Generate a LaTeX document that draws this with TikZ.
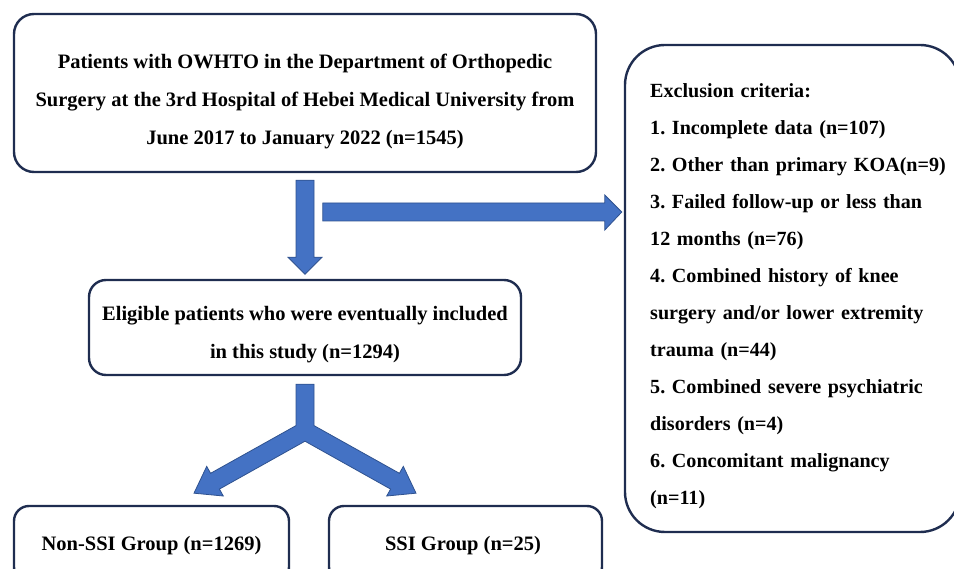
\documentclass[tikz,border=0pt]{standalone}
\usepackage{fontspec}
\setmainfont{Liberation Serif}
\usetikzlibrary{positioning}
\definecolor{boxline}{HTML}{1F2D50}
\definecolor{arrowblue}{HTML}{4472C4}
\definecolor{arrowline}{HTML}{2F528F}
\frenchspacing

\begin{document}
\begin{tikzpicture}[
    x=1pt, y=-1pt,
    frame/.style={rectangle, draw=boxline, line width=2.4pt, rounded corners=20pt, inner sep=0pt},
    txt/.style={align=center, inner sep=0pt, font=\fontsize{20.5}{38}\selectfont\bfseries},
    fatarrow/.style={fill=arrowblue, draw=arrowline, line width=0.8pt, line join=miter}
]
\useasboundingbox (0,0) rectangle (954,569);

% CAJAS PRINCIPALES
\node[frame, minimum width=582pt, minimum height=158pt] (patients) at (305,93) {};
\node[txt] (patientstext) at (305,101) {Patients with OWHTO in the Department of Orthopedic\\Surgery at the 3rd Hospital of Hebei Medical University from\\June 2017 to January 2022 (n=1545)};
\node[frame, minimum width=432pt, minimum height=95pt, rounded corners=17pt] (eligible) at (305,327.5) {};
\node[txt] (eligibletext) at (305,335) {Eligible patients who were eventually included\\in this study (n=1294)};

% EXCLUSION
\node[frame, minimum width=335pt, minimum height=487pt, rounded corners=40pt] (exclusion) at (792.5,288.5) {};
\node[txt, anchor=west, align=left, text width=320pt, font=\fontsize{20.1}{37}\selectfont\bfseries] (exclusiontext) at (650,296) {Exclusion criteria:\\1. Incomplete data (n=107)\\2. Other than primary KOA(n=9)\\3. Failed follow-up or less than\\12 months (n=76)\\4. Combined history of knee\\surgery and/or lower extremity\\trauma (n=44)\\5. Combined severe psychiatric\\disorders (n=4)\\6. Concomitant malignancy\\(n=11)};

% GRUPOS
\node[frame, minimum width=275pt, minimum height=76pt, rounded corners=15pt] (nonssi) at (151.5,544) {};
\node[txt] (nonssitext) at (151.5,546) {Non-SSI Group (n=1269)};
\node[frame, minimum width=273pt, minimum height=76pt, rounded corners=15pt] (ssi) at (465.5,544) {};
\node[txt] (ssitext) at (463,546) {SSI Group (n=25)};

% Flechas
\draw[fatarrow, shift={(patients.south)}] (-9,7) -- (9,7) -- (9,84) -- (17,84) -- (0,101) -- (-17,84) -- (-9,84) -- cycle;
\draw[fatarrow, shift={(exclusion.west)}] (-301,-85.5) -- (-19,-85.5) -- (-19,-93.5) -- (-2,-76.5) -- (-19,-58.5) -- (-19,-67.5) -- (-301,-67.5) -- cycle;
\draw[fatarrow, shift={(eligible.south)}] (-9,8) -- (9,8) -- (9,49.4) -- (94.4,97.1) -- (98.3,90.2) -- (111,117) -- (81.7,119.8) -- (85.6,112.9) -- (0,65) -- (-85.6,112.9) -- (-81.7,119.8) -- (-111,117) -- (-98.3,90.2) -- (-94.4,97.1) -- (-9,49.4) -- cycle;

\end{tikzpicture}
\end{document}
